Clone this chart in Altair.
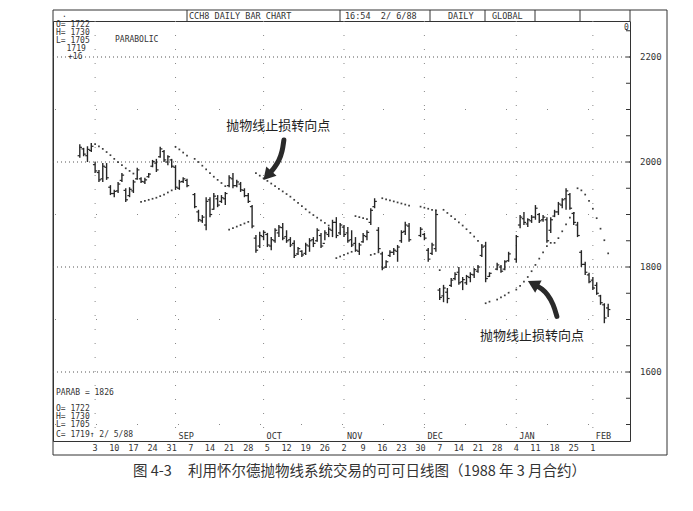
import altair as alt
import pandas as pd

# ---------------- data ----------------
bar_idx = [-4,-3,-2,-1,0,1,2,3,4,5,6,7,8,9,10,11,12,13,14,15,16,17,18,19,20,21,22,23,24,
           26,27,28,29,30,31,32,33,34,35,36,37,38,39,40,41,42,43,44,45,46,47,48,49,50,
           51,52,53,54,55,56,57,58,59,60,61,62,63,64,65,66,67,68,69,70,71,72,73,74,75,
           76,77,78,79,80,81,82,85,86,87,88,89,90,91,92,93,94,95,96,97,98,99,100,101,102,
           103,105,106,107,108,110,111,112,113,114,115,116,117,118,119,120,121,122,123,124,
           125,126,127,128,129,130,131,132,133,134]
bar_open = [2012,2025,2012,2022,1995,1980,1968,1990,1952,1940,1945,1965,1946,1936,1945,1968,1968,1962,1972,1992,1998,2010,2020,2000,2004,1990,1950,1963,1965,
            1938,1905,1888,1880,1928,1910,1930,1925,1930,1955,1968,1955,1958,1946,1936,1915,1855,1840,1858,1862,1840,1850,1865,1875,1858,
            1852,1845,1825,1830,1826,1840,1852,1850,1860,1845,1862,1870,1885,1865,1876,1865,1852,1845,1830,1848,1858,1885,1915,1870,1825,
            1800,1822,1828,1830,1850,1868,1878,1860,1862,1832,1826,1835,1756,1745,1752,1765,1778,1790,1772,1770,1780,1785,1792,1822,1840,
            1782,1796,1800,1796,1812,1815,1880,1892,1882,1888,1895,1900,1890,1890,1870,1897,1905,1918,1930,1938,
            1902,1880,1828,1805,1785,1775,1765,1745,1728,1722]
bar_high = [2034,2027,2030,2036,2000,1985,1998,1998,1956,1947,1962,1979,1950,1952,1966,1989,1971,1970,1979,2004,2006,2029,2023,2013,2006,1994,1966,1971,1968,
            1941,1909,1899,1933,1933,1941,1937,1937,1943,1975,1979,1966,1962,1950,1941,1918,1861,1867,1870,1865,1857,1874,1880,1884,1870,
            1857,1851,1838,1832,1846,1855,1857,1874,1865,1870,1876,1890,1895,1884,1880,1876,1870,1857,1846,1865,1870,1912,1931,1876,1829,
            1813,1832,1836,1842,1870,1886,1884,1876,1865,1836,1846,1909,1760,1766,1760,1779,1790,1800,1781,1785,1790,1798,1804,1842,1848,
            1790,1808,1804,1813,1829,1861,1899,1905,1893,1899,1918,1903,1899,1895,1895,1909,1924,1931,1950,1941,
            1905,1886,1832,1810,1789,1781,1771,1747,1731,1730]
bar_low = [2008,2011,2000,2019,1979,1962,1962,1966,1937,1933,1941,1962,1924,1933,1941,1966,1960,1958,1970,1990,1981,2008,2000,1994,1989,1947,1947,1960,1952,
           1912,1886,1884,1870,1895,1909,1914,1922,1918,1952,1950,1952,1943,1933,1922,1874,1827,1836,1851,1838,1832,1846,1857,1851,1846,
           1838,1817,1823,1819,1823,1829,1838,1848,1836,1851,1857,1857,1855,1861,1857,1846,1838,1829,1823,1846,1851,1880,1912,1829,1794,
           1798,1819,1823,1810,1846,1861,1848,1857,1851,1810,1823,1829,1737,1733,1731,1762,1775,1766,1756,1766,1771,1779,1789,1819,1771,
           1781,1794,1789,1794,1810,1808,1874,1880,1876,1884,1890,1884,1886,1846,1865,1895,1899,1912,1909,1909,
           1880,1857,1800,1785,1769,1756,1747,1728,1693,1705]
bar_close = [2028,2015,2024,2030,1983,1966,1992,1970,1940,1944,1958,1975,1928,1948,1962,1985,1963,1966,1977,2001,1985,2025,2004,2010,1992,1952,1962,1968,1955,
             1915,1890,1895,1925,1900,1935,1918,1932,1940,1970,1955,1962,1947,1936,1925,1878,1832,1860,1866,1842,1852,1870,1876,1855,1850,
             1842,1822,1835,1823,1842,1850,1845,1870,1840,1865,1872,1885,1860,1880,1862,1850,1842,1832,1842,1860,1866,1908,1925,1835,1798,
             1810,1828,1832,1838,1866,1880,1852,1872,1855,1815,1842,1900,1742,1760,1740,1775,1786,1770,1776,1782,1786,1795,1800,1838,1778,
             1788,1804,1792,1810,1825,1858,1895,1885,1890,1895,1912,1888,1895,1850,1890,1905,1920,1928,1945,1912,
             1885,1860,1805,1790,1772,1760,1750,1732,1703,1719]

# Parabolic stop-and-reverse dots
sar_idx = [0,1,2,3,4,5,6,7,8,9,10,
           12,13,14,15,16,17,18,19,20,
           21,22,23,24,26,27,28,29,30,31,32,33,34,
           35,36,37,38,39,40,
           42,43,44,45,46,47,48,49,50,51,52,53,54,55,56,57,58,59,60,61,
           63,64,65,66,67,
           68,69,70,71,
           72,73,74,
           75,76,77,78,79,80,81,82,85,86,87,88,89,
           90,
           91,92,93,94,95,96,97,98,99,100,101,
           102,103,105,106,107,108,110,111,112,113,114,115,116,117,118,119,120,121,122,123,124,125,
           126,127,128,129,130,131,132,133,134]
sar_val = [2034,2030,2025,2019,2013,2006,2000,1994,1988,1983,1978,
           1924,1926,1928,1930,1932,1935,1938,1942,1946,
           2029,2024,2018,2012,2006,2000,1993,1986,1979,1972,1966,1960,1954,
           1871,1874,1877,1880,1883,1886,
           1979,1974,1969,1964,1959,1954,1949,1944,1939,1934,1928,1922,1916,1910,1904,1899,1894,1889,1884,1879,
           1817,1820,1823,1826,1829,
           1897,1895,1893,1891,
           1823,1825,1828,
           1931,1929,1927,1925,1923,1921,1919,1917,1915,1913,1911,1909,1908,
           1794,
           1909,1903,1897,1891,1885,1879,1872,1865,1858,1850,1842,
           1731,1734,1738,1742,1746,1751,1757,1764,1772,1781,1792,1804,1816,1828,1840,1846,1846,1855,1868,1881,1894,1903,
           1950,1946,1938,1926,1911,1893,1873,1851,1826]

# axis / label arrays
price_labels = [1600, 1800, 2000, 2200]
minor_ticks = [1500, 1550, 1600, 1650, 1700, 1750, 1800, 1850, 1900, 1950, 2000, 2050, 2100, 2150, 2200, 2250]
sparse_rows = [1500, 1700, 1900, 2100]
week_idx = [0,5,10,15,20,25,30,35,40,45,50,55,60,65,70,75,80,85,90,95,100,105,110,115,120,125,130]
week_lbl = ["3","10","17","24","31","7","14","21","28","5","12","19","26","2","9","16","23","30",
            "7","14","21","28","4","11","18","25","1"]
month_idx = [0, 21, 44, 65, 86, 110, 130]
month_lbl = ["", "SEP", "OCT", "NOV", "DEC", "JAN", "FEB"]

# annotation arrows (index, price)
arrow1_i = [49.3, 48.9, 48.0, 46.9, 45.9]
arrow1_p = [2042, 2020, 2002, 1990, 1981]
arrow1_head = (45.0, 1974)
arrow2_i = [120.6, 119.7, 118.2, 116.6, 115.4]
arrow2_p = [1706, 1729, 1748, 1759, 1764]
arrow2_head = (114.4, 1768)
note_text = "抛物线止损转向点"
note1 = (47.8, 2069)
note2 = (114.1, 1668)
NB = "\u00a0"
caption = ("图" + NB + "4-3" + NB * 5 + "利用怀尔德抛物线系统交易的可可日线图（1988" + NB + "年" + NB
           + "3" + NB + "月合约）")

W, H = 577, 420
XDOM = [-11, 139.7]
YDOM = [1468.6, 2268.6]
MONO = "DejaVu Sans Mono"
INK = "#262626"

bars = pd.DataFrame({"i": bar_idx, "o": bar_open, "h": bar_high, "l": bar_low, "c": bar_close})
sar = pd.DataFrame({"i": sar_idx, "s": sar_val})

xs = alt.Scale(domain=XDOM, nice=False, zero=False)
ys = alt.Scale(domain=YDOM, nice=False, zero=False)
X = lambda f: alt.X(f, type="quantitative", scale=xs, axis=None)
Y = lambda f: alt.Y(f, type="quantitative", scale=ys, axis=None)

one = pd.DataFrame({"k": [0]})

def hline(x1, x2, y, w=1.0):
    return alt.Chart(one).mark_rule(color="#333", strokeWidth=w).encode(
        x=alt.value(x1), x2=alt.value(x2), y=alt.value(y))

def vline(x, y1, y2, w=1.0):
    return alt.Chart(one).mark_rule(color="#333", strokeWidth=w).encode(
        x=alt.value(x), y=alt.value(y1), y2=alt.value(y2))

def label(txt, x, y, size=8, align="left", font=MONO, color="#333"):
    return alt.Chart(one).mark_text(text=txt.replace(" ", NB), font=font, fontSize=size,
                                    align=align, baseline="middle", color=color).encode(
        x=alt.value(x), y=alt.value(y))

# grid
grid_major = alt.Chart(pd.DataFrame({"p": price_labels})).mark_rule(
    color="#555", strokeWidth=1, strokeDash=[1, 3]).encode(y=Y("p"))
price_text = alt.Chart(pd.DataFrame({"p": price_labels})).mark_text(
    font=MONO, fontSize=9, color="#333", align="left", baseline="middle").encode(
    x=alt.value(W + 10), y=Y("p"), text="p:Q")
grid_sparse = alt.Chart(pd.DataFrame({"p": sparse_rows})).mark_rule(
    color="#888", strokeWidth=1, strokeDash=[1, 40]).encode(y=Y("p"))
grid_cols = alt.Chart(pd.DataFrame({"i": month_idx})).mark_rule(
    color="#888", strokeWidth=1, strokeDash=[1, 13]).encode(x=X("i"))
ticks = alt.Chart(pd.DataFrame({"p": minor_ticks})).mark_rule(color="#333").encode(
    x=alt.value(W - 4), x2=alt.value(W), y=Y("p"))

# bars
hl = alt.Chart(bars).mark_rule(color=INK, strokeWidth=1.4).encode(x=X("i"), y=Y("l"), y2="h")
op = alt.Chart(bars).mark_rule(color=INK, strokeWidth=1.2, xOffset=-2.2).encode(x=X("i"), x2="i", y=Y("o"))
cl = alt.Chart(bars).mark_rule(color=INK, strokeWidth=1.2, x2Offset=2.2).encode(x=X("i"), x2="i", y=Y("c"))

dots = alt.Chart(sar).mark_square(size=3, color="#333", opacity=0.95).encode(x=X("i"), y=Y("s"))

# arrows
def arrow(ii, pp, head, ang):
    df = pd.DataFrame({"i": ii, "p": pp, "k": list(range(len(ii)))})
    shaft = alt.Chart(df).mark_line(color="#2a2a2a", strokeWidth=5, strokeCap="round",
                                    interpolate="basis").encode(x=X("i"), y=Y("p"), order="k:Q")
    hd = alt.Chart(pd.DataFrame({"i": [head[0]], "p": [head[1]]})).mark_point(
        shape="triangle-up", size=190, filled=True, color="#2a2a2a", opacity=1,
        angle=ang).encode(x=X("i"), y=Y("p"))
    return shaft + hd

a1 = arrow(arrow1_i, arrow1_p, arrow1_head, 222)
a2 = arrow(arrow2_i, arrow2_p, arrow2_head, 298)

notes = alt.Chart(pd.DataFrame({"i": [note1[0], note2[0]], "p": [note1[1], note2[1]],
                                "t": [note_text, note_text]})).mark_text(
    font="Noto Sans CJK SC", fontSize=13, color="#222").encode(x=X("i"), y=Y("p"), text="t:N")

weeks = alt.Chart(pd.DataFrame({"i": week_idx, "t": week_lbl})).mark_text(
    font=MONO, fontSize=8.5, color="#333", baseline="middle").encode(
    x=X("i"), y=alt.value(H + 6.5), text="t:N")
months = alt.Chart(pd.DataFrame({"i": month_idx, "t": month_lbl})).mark_text(
    font=MONO, fontSize=8.5, color="#333", baseline="middle", align="left", dx=3).encode(
    x=X("i"), y=alt.value(H - 5), text="t:N")

# frame and header
frame = [
    hline(0, 614, -11), hline(0, 614, H + 14), vline(614, -11, H + 14),
    vline(0, -11, H + 14),
    vline(134, -11, 0), vline(287, -11, 0), vline(377, -11, 0), vline(432, -11, 0),
    vline(482, -11, 0), vline(527, -11, 0), vline(W, -11, 0),
]
texts = [
    label(".", 9, -6),
    label("CCH8 DAILY BAR CHART", 136, -5.5, size=8.5),
    label("16:54  2/ 6/88", 292, -5.5, size=8.5),
    label("DAILY", 395, -5.5, size=8.5),
    label("GLOBAL", 439, -5.5, size=8.5),
    label("O= 1722", 3, 4), label("H= 1730", 3, 12), label("L= 1705", 3, 20),
    label("1719", 13.5, 28), label("+16", 15, 36),
    label("PARABOLIC", 62, 19),
    label("0", W - 6, 7),
    label("PARAB = 1826", 3, 372),
    label("O= 1722", 3, 388), label("H= 1730", 3, 396), label("L= 1705", 3, 404),
    label("C= 1719\u2191 2/ 5/88", 3, 414),
    alt.Chart(one).mark_text(text=caption, font="Noto Sans CJK SC", fontSize=14.5, align="left",
                             baseline="middle", color="#333").encode(
        x=alt.value(80), y=alt.value(451)),
]

chart = alt.layer(grid_major, price_text, grid_sparse, grid_cols, ticks, hl, op, cl, dots, a1, a2,
                  notes, weeks, months, *frame, *texts).properties(
    width=W, height=H,
    padding={"left": 45, "top": 13, "right": 50, "bottom": 55},
    autosize=alt.AutoSizeParams(type="none"),
    background="white",
).configure_view(stroke="#333", strokeWidth=1)

chart.save("out.html", embed_options={"renderer": "svg", "actions": False})
